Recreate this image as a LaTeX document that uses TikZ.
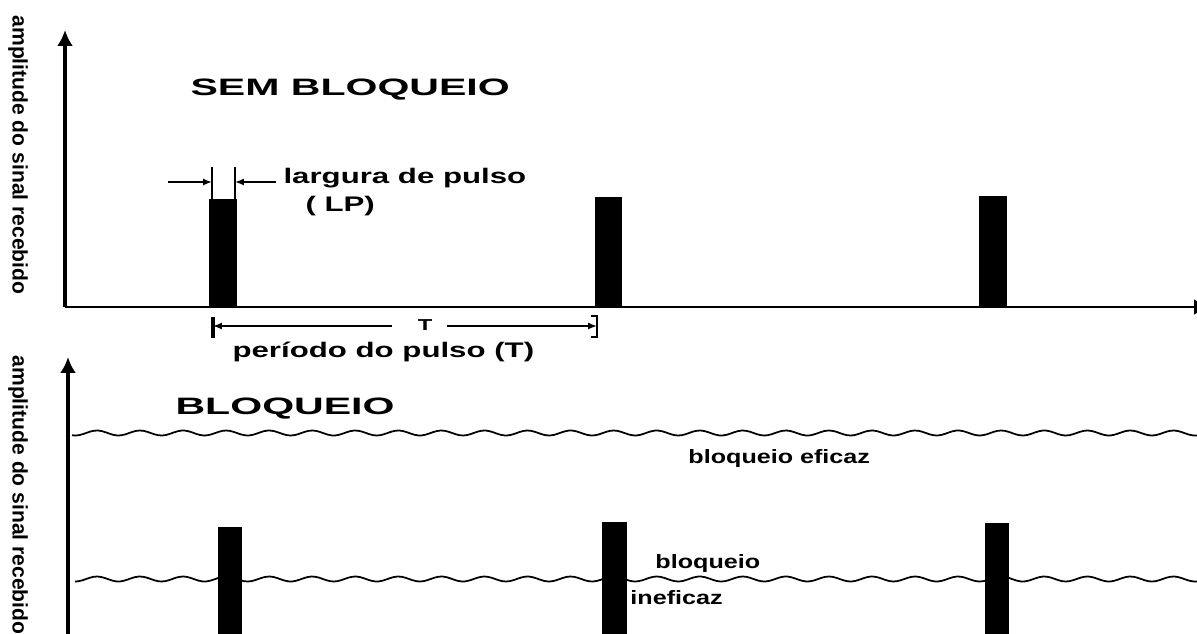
\documentclass[tikz,border=0pt]{standalone}
\usepackage{fontspec}
\setmainfont{Liberation Sans}
\usetikzlibrary{arrows.meta}
\begin{document}
\begin{tikzpicture}[
    rotulo/.style={font=\fontsize{12}{14}\selectfont\bfseries, xscale=1.48, inner sep=0pt},
    rotulob/.style={font=\fontsize{11}{13}\selectfont\bfseries, xscale=1.3, inner sep=0pt},
    titulo/.style={font=\fontsize{13.5}{16}\selectfont\bfseries, xscale=1.73, inner sep=0pt},
    eixolbl/.style={font=\fontsize{12}{14}\selectfont\bfseries, rotate=-90, inner sep=0pt},
    eixo/.style={line width=2.2pt, -{Latex[length=9pt,width=9pt]}},
    marca/.style={line width=1.2pt, -{Latex[length=5pt,width=4pt]}},
    onda/.style={line width=1pt}
]
    \useasboundingbox (0,0) rectangle (23.94,12.66);
    \clip (0,0) rectangle (23.94,12.66);

    % sem bloqueio: eixos
    \draw[eixo] (1.3,6.52) -- (1.3,12.06);
    \draw[eixo, line width=1.7pt] (1.3,6.52) -- (24.2,6.52);
    \node[eixolbl] (ylab1) at (0.36,9.56) {amplitude do sinal recebido};
    \node[titulo, anchor=base west] (sem) at (3.8,10.76) {SEM BLOQUEIO};

    % pulsos
    \fill (4.18,6.52) rectangle (4.74,8.68);
    \fill (11.9,6.52) rectangle (12.44,8.72);
    \fill (19.58,6.52) rectangle (20.14,8.74);

    % largura de pulso
    \coordinate (lpe) at (4.24,9.02);
    \coordinate (lpd) at (4.70,9.02);
    \coordinate (lpe0) at (3.36,9.02);
    \coordinate (lpd0) at (5.52,9.02);
    \draw[line width=1.4pt] (4.24,9.32) -- (4.24,8.68);
    \draw[line width=1.4pt] (4.70,9.32) -- (4.70,8.68);
    \draw[marca] (lpe0) -- (lpe);
    \draw[marca] (lpd0) -- (lpd);
    \node[rotulo, anchor=base west] (larg) at (5.66,9.0) {largura de pulso};
    \node[rotulo, anchor=base west] (lp) at (6.1,8.44) {( LP)};

    % periodo
    \coordinate (te) at (4.26,6.14);
    \coordinate (td) at (11.94,6.14);
    \coordinate (te0) at (7.84,6.14);
    \coordinate (td0) at (8.94,6.14);
    \draw[line width=2pt] (4.26,6.32) -- (4.26,5.9);
    \draw[line width=1.2pt] (11.82,6.34) -- (11.94,6.34) -- (11.94,5.92) -- (11.82,5.92);
    \node[font=\fontsize{9}{10}\selectfont\bfseries, xscale=1.5] (tl) at (8.5,6.16) {T};
    \draw[marca] (te0) -- (te);
    \draw[marca] (td0) -- (td);
    \node[rotulo, anchor=base west] (per) at (4.64,5.52) {período do pulso (T)};

    % bloqueio
    \draw[eixo] (1.36,-0.5) -- (1.36,5.52);
    \node[eixolbl] (ylab2) at (0.36,2.76) {amplitude do sinal recebido};
    \node[titulo, anchor=base west] (bloq) at (3.5,4.38) {BLOQUEIO};

    \draw[onda] plot[domain=1.44:23.94, samples=300, smooth, variable=\x] ({\x},{4.0+0.05*sin(418*\x)});
    \draw[onda] plot[domain=1.5:23.94, samples=300, smooth, variable=\x] ({\x},{1.08+0.05*sin(418*\x)});
    \node[rotulob, anchor=base west] (efi) at (13.76,3.4) {bloqueio eficaz};

    \fill (4.36,-0.2) rectangle (4.84,2.12);
    \fill (12.04,-0.2) rectangle (12.54,2.22);
    \fill (19.7,-0.2) rectangle (20.18,2.2);

    \node[rotulob, anchor=base west] (bq) at (13.1,1.3) {bloqueio};
    \node[rotulob, anchor=base west] (inef) at (12.6,0.58) {ineficaz};
\end{tikzpicture}
\end{document}
